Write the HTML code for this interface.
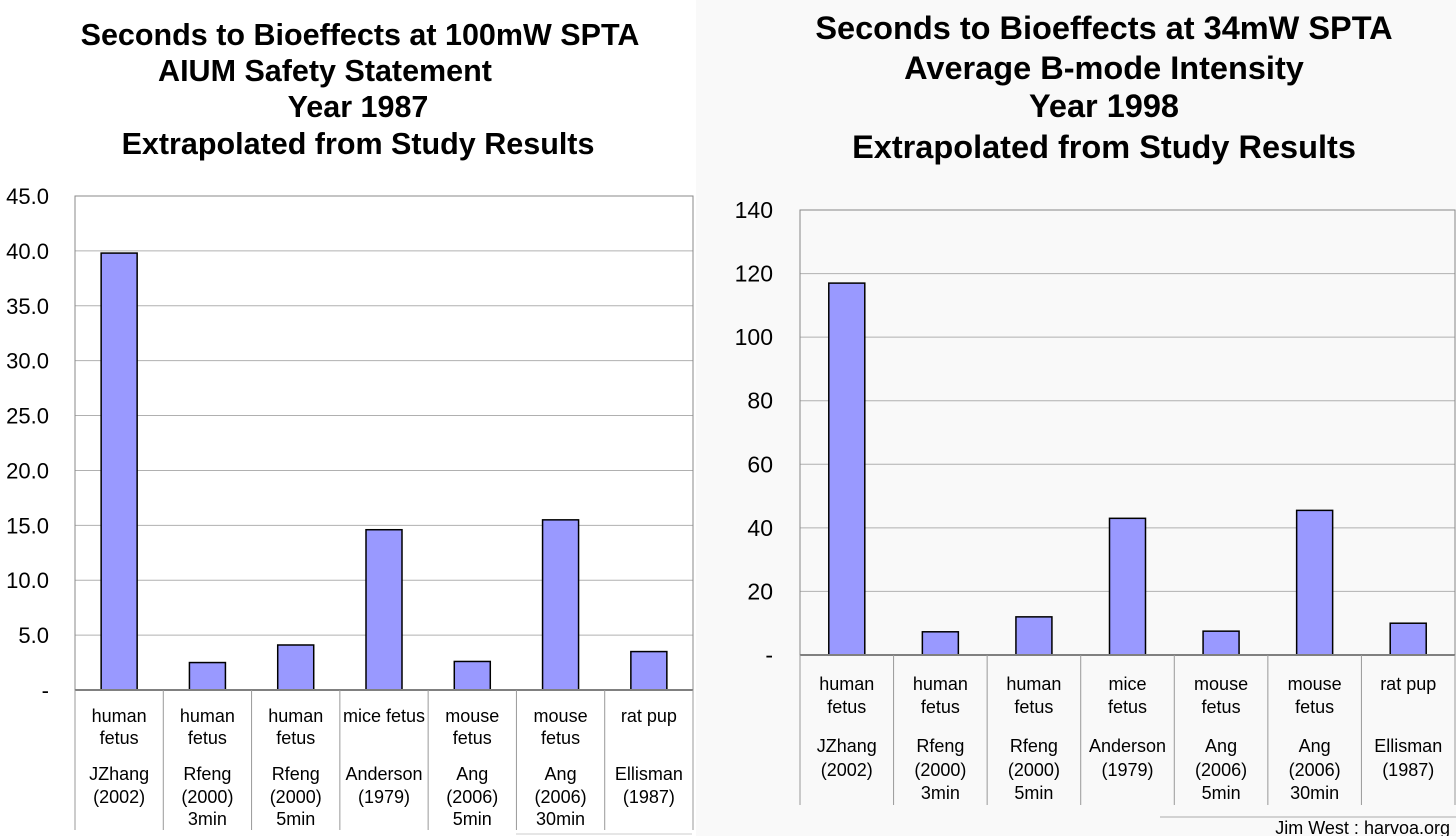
<!DOCTYPE html>
<html><head><meta charset="utf-8"><style>
body{margin:0;background:#fff;}
svg{display:block;font-family:"Liberation Sans",Arial,sans-serif;}
</style></head><body>
<svg id="s" width="1456" height="836">
<rect x="0" y="0" width="696" height="836" fill="#ffffff"/>
<rect x="696" y="0" width="760" height="836" fill="#f9f9f9"/>
<g font-weight="bold" font-size="30.5" text-anchor="middle" fill="#000">
<text x="360" y="45">Seconds to Bioeffects at 100mW SPTA</text>
<text x="325" y="81">AIUM Safety Statement</text>
<text x="358" y="117">Year 1987</text>
<text x="358" y="154">Extrapolated from Study Results</text>
</g>
<g font-weight="bold" font-size="32.5" text-anchor="middle" fill="#000">
<text x="1104" y="39">Seconds to Bioeffects at 34mW SPTA</text>
<text x="1104" y="79">Average B-mode Intensity</text>
<text x="1104" y="117">Year 1998</text>
<text x="1104" y="158">Extrapolated from Study Results</text>
</g>
<line x1="1160" y1="817" x2="1456" y2="817" stroke="#aaa"/>
<text x="1450" y="834" font-size="18" text-anchor="end">Jim West : harvoa.org</text>
<line x1="516" y1="834" x2="692" y2="834" stroke="#ccc"/>
</svg>
<script>
const categories=[["human","fetus","JZhang","(2002)",""],["human","fetus","Rfeng","(2000)","3min"],["human","fetus","Rfeng","(2000)","5min"],["mice fetus","","Anderson","(1979)",""],["mouse","fetus","Ang","(2006)","5min"],["mouse","fetus","Ang","(2006)","30min"],["rat pup","","Ellisman","(1987)",""]];
const rightCategories=[["human","fetus","JZhang","(2002)",""],["human","fetus","Rfeng","(2000)","3min"],["human","fetus","Rfeng","(2000)","5min"],["mice","fetus","Anderson","(1979)",""],["mouse","fetus","Ang","(2006)","5min"],["mouse","fetus","Ang","(2006)","30min"],["rat pup","","Ellisman","(1987)",""]];
const leftValues=[39.8,2.5,4.1,14.6,2.6,15.5,3.5];
const rightValues=[117,7.3,12,43,7.5,45.5,10];
const leftTicks=[0,5,10,15,20,25,30,35,40,45];
const leftTickLabels=["-","5.0","10.0","15.0","20.0","25.0","30.0","35.0","40.0","45.0"];
const rightTicks=[0,20,40,60,80,100,120,140];
const rightTickLabels=["-","20","40","60","80","100","120","140"];
const NS="http://www.w3.org/2000/svg";
const svg=document.getElementById('s');
function mk(tag,attrs,parent){const e=document.createElementNS(NS,tag);for(const k in attrs)e.setAttribute(k,attrs[k]);(parent||svg).appendChild(e);return e;}
function chart(o){
  const g=mk('g',{});
  
  
  const max=o.ticks[o.ticks.length-1];
  const y=v=>o.y0-(v/max)*(o.y0-o.y1);
  const bw=(o.x1-o.x0)/o.cats.length;
  o.ticks.forEach((t,i)=>{
    if(i>0){const l=mk('line',{x1:o.x0,x2:o.x1,y1:y(t),y2:y(t),stroke:'#b0b0b0','stroke-width':1},g);
    
    }
    const tx=mk('text',{x:o.tx,y:y(t)+8,'font-size':o.tfs,'text-anchor':'end'},g);
    tx.textContent=o.tickLabels[i];
    
    
  });
  const fr=mk('rect',{x:o.x0,y:o.y1,width:o.x1-o.x0,height:o.y0-o.y1,fill:'none',stroke:'#888','stroke-width':1},g);
  
  
  o.vals.forEach((v,i)=>{
    const cx=o.x0+bw*(i+0.5);
    const r=mk('rect',{x:cx-18,y:y(v),width:36,height:o.y0-y(v),fill:'#9999ff',stroke:'#000','stroke-width':1.5},g);
    
    
  });
  const ax=mk('line',{x1:o.x0,x2:o.x1,y1:o.y0,y2:o.y0,stroke:'#808080','stroke-width':2},g);
  
  
  for(let i=0;i<=o.cats.length;i++){
    const x=o.x0+bw*i;
    const l=mk('line',{x1:x,x2:x,y1:o.y0,y2:o.ybot,stroke:'#999','stroke-width':1},g);
    
    
  }
  o.cats.forEach((c,i)=>{
    const cx=o.x0+bw*(i+0.5);
    c.forEach((s,j)=>{
      if(!s)return;
      const t=mk('text',{x:cx,y:o.ly[j],'font-size':18,'text-anchor':'middle'},g);
      t.textContent=s;
      
      
    });
  });
}
chart({name:'left-chart',x0:75,x1:693,y0:690,y1:196,ybot:830,tx:49,tfs:22,ticks:leftTicks,tickLabels:leftTickLabels,vals:leftValues,cats:categories,ly:[722,744,780,803,825]});
chart({name:'right-chart',x0:800,x1:1455,y0:655,y1:210,ybot:805,tx:773,tfs:23,ticks:rightTicks,tickLabels:rightTickLabels,vals:rightValues,cats:rightCategories,ly:[690,713,752,776,799]});
</script>
</body></html>
